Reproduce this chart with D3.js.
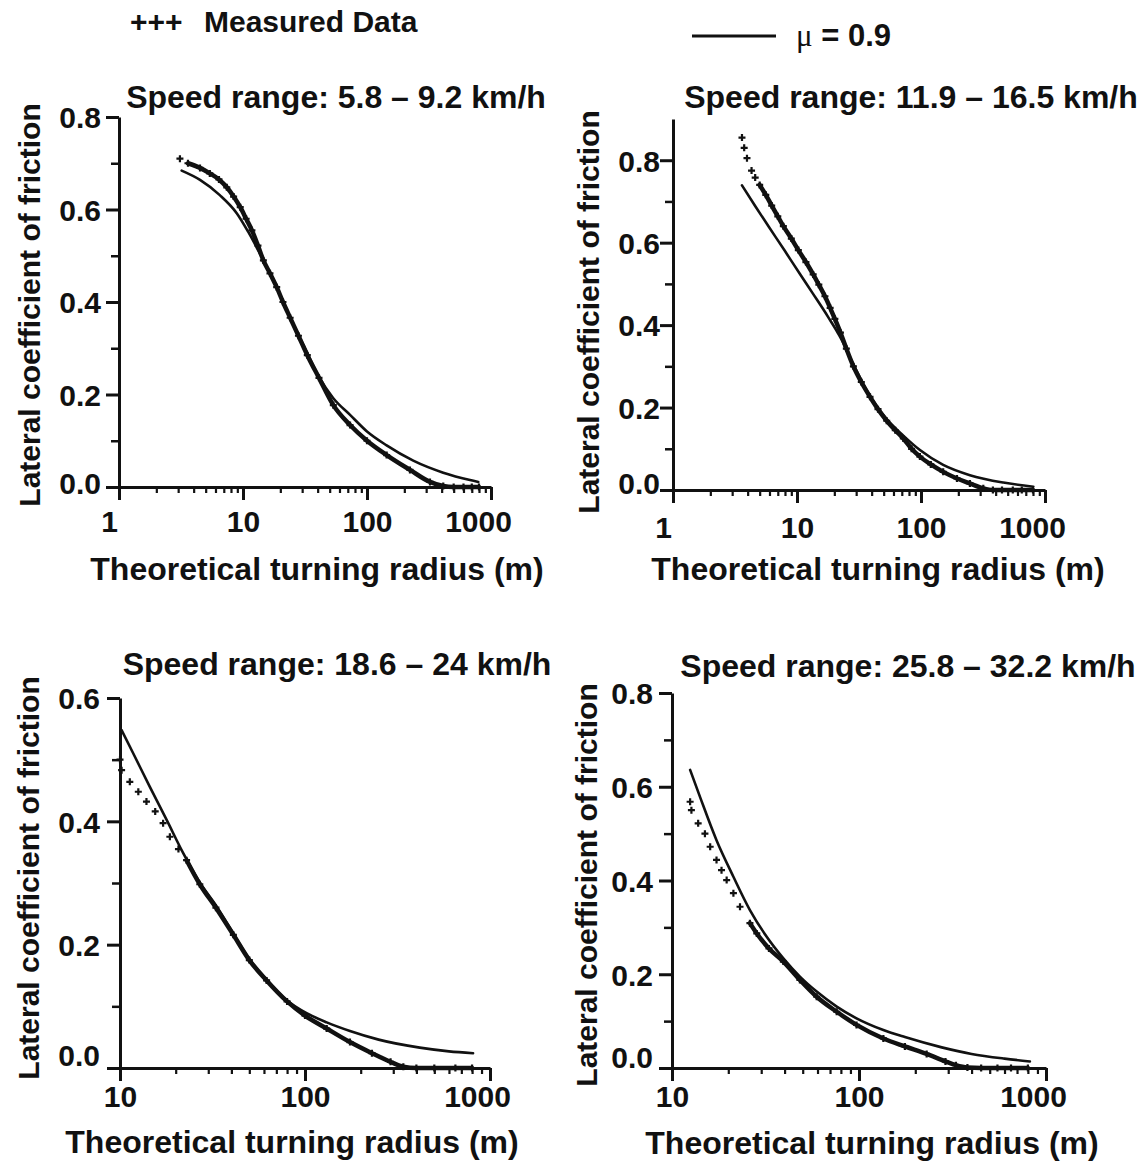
<!DOCTYPE html>
<html><head><meta charset="utf-8">
<script src="https://cdn.jsdelivr.net/npm/d3@7"></script>
<style>
body{margin:0;background:#fff;}
text{font-family:"Liberation Sans",Arial,Helvetica,sans-serif;font-weight:bold;fill:#111;}
</style></head><body>
<svg id="chart" width="1147" height="1166" style="background:#fff"></svg>
<script>
// ---------------- DATA ----------------
const legendMeasured = "Measured Data";
const legendModel = "\u03bc = 0.9";
const titles = [
  "Speed range: 5.8 \u2013 9.2 km/h",
  "Speed range: 11.9 \u2013 16.5 km/h",
  "Speed range: 18.6 \u2013 24 km/h",
  "Speed range: 25.8 \u2013 32.2 km/h"
];
const xAxisLabel = "Theoretical turning radius (m)";
const yAxisLabel = "Lateral coefficient of friction";

const xTicksTop = [1, 10, 100, 1000];
const xTicksBottom = [10, 100, 1000];
const xDomainTop = [1, 1000];
const xDomainBottom = [10, 1000];
const yTicksTL = [0, 0.2, 0.4, 0.6, 0.8];
const yTicksTR = [0, 0.2, 0.4, 0.6, 0.8];
const yTicksBL = [0, 0.2, 0.4, 0.6];
const yTicksBR = [0, 0.2, 0.4, 0.6, 0.8];
const yMax = [0.8, 0.9, 0.6, 0.8];

// model curve mu = 0.9  [radius m, lateral friction]
const modelTL = [[3.2,0.684],[4.5,0.664],[6.5,0.631],[8.9,0.592],[11,0.552],[14.6,0.49],[18.7,0.432],[24,0.366],[31,0.305],[41,0.238],[53.5,0.192],[73,0.156],[100,0.12],[144,0.09],[236,0.057],[412,0.031],[677,0.015],[790,0.011]];
const modelTR = [[3.6,0.739],[4.64,0.687],[5.94,0.638],[7.9,0.582],[10.5,0.525],[13.4,0.477],[17.8,0.42],[22.6,0.368],[28.5,0.305],[38.8,0.228],[52.9,0.172],[72,0.132],[98,0.097],[151,0.061],[248,0.036],[461,0.018],[805,0.008]];
const modelBL = [[10.2,0.548],[11.8,0.51],[14.5,0.456],[17.9,0.402],[22,0.348],[27.1,0.30],[33.3,0.262],[41,0.218],[50.4,0.175],[62,0.143],[79.6,0.11],[102,0.089],[131,0.074],[175,0.06],[250,0.046],[417,0.033],[600,0.027],[810,0.024]];
const modelBR = [[12.5,0.636],[14.1,0.579],[17.3,0.486],[21.3,0.408],[26.1,0.337],[32.1,0.28],[39.4,0.234],[48.3,0.195],[59.4,0.163],[76,0.131],[97,0.106],[135,0.081],[176,0.066],[277,0.044],[400,0.03],[600,0.02],[820,0.014]];

// measured data: isolated "+" marks and the dense band of "+" marks
const measuredSparseTL = [[3.1,0.71]];
const measuredTL = [[3.6,0.70],[4.5,0.69],[5.4,0.678],[6.4,0.665],[7.4,0.648],[8.4,0.628],[9.5,0.605],[10.6,0.58],[11.8,0.555],[13.2,0.522],[14.6,0.49],[16.5,0.462],[18.7,0.432],[21,0.40],[24,0.366],[28,0.327],[33,0.285],[41,0.236],[53.5,0.177],[73,0.134],[100,0.10],[144,0.069],[222,0.037],[322,0.011],[412,0.002],[500,0],[600,0],[700,0],[800,0]];
const measuredSparseTR = [[3.6,0.855],[3.75,0.83],[3.95,0.805],[4.3,0.775],[4.6,0.758]];
const measuredTR = [[5.0,0.74],[5.6,0.716],[6.25,0.69],[7.0,0.664],[7.76,0.64],[9,0.61],[10.25,0.582],[11.8,0.553],[13.5,0.523],[15,0.498],[16.8,0.47],[18.5,0.442],[20.2,0.415],[22.4,0.382],[25,0.343],[28.5,0.30],[33,0.262],[38.8,0.226],[45,0.196],[52.9,0.168],[62,0.145],[72,0.125],[84,0.10],[98,0.081],[120,0.062],[151,0.044],[195,0.028],[248,0.016],[318,0.004],[380,0],[450,0],[550,0],[650,0],[800,0]];
const measuredSparseBL = [[10.0,0.50],[10.2,0.483],[11.3,0.464],[12.56,0.448],[13.9,0.432],[15.5,0.416],[17.1,0.397],[18.6,0.375],[20.7,0.355]];
const measuredBL = [[22.9,0.337],[27,0.298],[33,0.26],[41,0.216],[50,0.175],[62,0.142],[80,0.108],[100,0.085],[131,0.064],[175,0.042],[230,0.024],[290,0.01],[340,0.002],[400,0],[500,0],[650,0],[800,0]];
const measuredSparseBR = [[12.5,0.568],[12.7,0.55],[13.8,0.522],[15,0.50],[16,0.472],[17.3,0.444],[18.4,0.422],[19.6,0.401],[21.3,0.373],[23.1,0.344]];
const measuredBR = [[26.1,0.309],[28.4,0.287],[33,0.255],[39.4,0.227],[48.3,0.188],[59.4,0.152],[76,0.12],[97,0.092],[135,0.063],[176,0.046],[230,0.03],[290,0.014],[330,0.006],[380,0.001],[450,0],[550,0],[650,0],[800,0]];

// ---------------- LAYOUT ----------------
const layout = [
  {x0:119, x1:491, y0:487, y1:117, title:[336,108], xlab:[317,580], ylab:[40,305], xLabOff:45, yLabGap:18, zeroShift:-4},
  {x0:673, x1:1045, y0:490, y1:119, title:[911,108], xlab:[878,580], ylab:[599,312], xLabOff:48, yLabGap:13, zeroShift:-7},
  {x0:120, x1:490, y0:1068, y1:698, title:[337,675], xlab:[292,1153], ylab:[39,878], xLabOff:39, yLabGap:20, zeroShift:-13},
  {x0:672, x1:1046, y0:1068, y1:693, title:[908,677], xlab:[872,1154], ylab:[597,885], xLabOff:39, yLabGap:19, zeroShift:-11}
];

const panels = [
  {xDomain:xDomainTop, xTicks:xTicksTop, yTicks:yTicksTL, yMax:yMax[0], model:modelTL, meas:measuredTL, sparse:measuredSparseTL, title:titles[0]},
  {xDomain:xDomainTop, xTicks:xTicksTop, yTicks:yTicksTR, yMax:yMax[1], model:modelTR, meas:measuredTR, sparse:measuredSparseTR, title:titles[1]},
  {xDomain:xDomainBottom, xTicks:xTicksBottom, yTicks:yTicksBL, yMax:yMax[2], model:modelBL, meas:measuredBL, sparse:measuredSparseBL, title:titles[2]},
  {xDomain:xDomainBottom, xTicks:xTicksBottom, yTicks:yTicksBR, yMax:yMax[3], model:modelBR, meas:measuredBR, sparse:measuredSparseBR, title:titles[3]}
];

const INK = "#111";
const svg = d3.select("#chart");
svg.append("rect").attr("width",1147).attr("height",1166).attr("fill","#fff");

// legend
svg.append("text").attr("x",130).attr("y",32).style("font-size","30px").text("+++");
svg.append("text").attr("x",204).attr("y",32).style("font-size","30px").text(legendMeasured);
svg.append("line").attr("x1",692).attr("x2",776).attr("y1",36).attr("y2",36)
  .attr("stroke",INK).attr("stroke-width",3);
const lt = svg.append("text").attr("x",796).attr("y",46).style("font-size","31px");
lt.append("tspan").style("font-family","'Liberation Serif','DejaVu Serif',serif").style("font-weight","normal").text(legendModel.slice(0,1));
lt.append("tspan").text(legendModel.slice(1));

const plusPath = "M-3.5,0H3.5M0,-3.5V3.5";

panels.forEach((p, i) => {
  const L = layout[i];
  const x = d3.scaleLog().domain(p.xDomain).range([L.x0, L.x1]);
  const y = d3.scaleLinear().domain([0, p.yMax]).range([L.y0, L.y1]);
  const g = svg.append("g");

  // minor x ticks
  const minorX = [];
  for (let d = p.xDomain[0]; d < p.xDomain[1]; d *= 10)
    for (let k = 2; k <= 9; k++) minorX.push(d * k);
  g.append("g").attr("transform",`translate(0,${L.y0})`)
    .call(d3.axisBottom(x).tickValues(minorX).tickSize(6).tickSizeOuter(0).tickFormat(""))
    .call(a => a.select(".domain").remove())
    .call(a => a.selectAll("line").attr("stroke",INK).attr("stroke-width",2.2));

  // minor y ticks
  const topTick = p.yTicks[p.yTicks.length-1];
  const minorY = d3.range(0, Math.round(topTick*10)+1).map(k => k/10).filter(v => !p.yTicks.some(t => Math.abs(t-v)<1e-9));
  g.append("g").attr("transform",`translate(${L.x0},0)`)
    .call(d3.axisLeft(y).tickValues(minorY).tickSize(8).tickSizeOuter(0).tickFormat(""))
    .call(a => a.select(".domain").remove())
    .call(a => a.selectAll("line").attr("stroke",INK).attr("stroke-width",2.5));

  // major x axis
  const xa = g.append("g").attr("transform",`translate(0,${L.y0})`)
    .call(d3.axisBottom(x).tickValues(p.xTicks).tickSize(13).tickSizeOuter(0).tickFormat(d3.format("d")));
  xa.select(".domain").attr("stroke",INK).attr("stroke-width",3);
  xa.selectAll("line").attr("stroke",INK).attr("stroke-width",3);
  xa.selectAll("text").attr("y",L.xLabOff).attr("dy",0).attr("fill",INK)
    .style("font-size","30px").style("font-family",'"Liberation Sans",Arial,sans-serif').style("font-weight","bold")
    .attr("dx", d => d === 1000 ? -13 : (d === 1 ? -10 : 0));

  // major y axis
  const ya = g.append("g").attr("transform",`translate(${L.x0},0)`)
    .call(d3.axisLeft(y).tickValues(p.yTicks).tickSize(13).tickSizeOuter(0).tickFormat(d3.format(".1f")));
  ya.select(".domain").attr("stroke",INK).attr("stroke-width",3);
  ya.selectAll("line").attr("stroke",INK).attr("stroke-width",3);
  ya.selectAll("text").attr("x",-L.yLabGap).attr("dy","0.36em").attr("fill",INK)
    .attr("transform", d => d === 0 ? `translate(0,${L.zeroShift})` : null)
    .style("font-size","30px").style("font-family",'"Liberation Sans",Arial,sans-serif').style("font-weight","bold");

  const line = d3.line().x(d => x(d[0])).y(d => y(d[1])).curve(d3.curveMonotoneX);

  // model line
  g.append("path").datum(p.model).attr("d", line).attr("fill","none")
    .attr("stroke",INK).attr("stroke-width",2.6).attr("stroke-linecap","round");

  // measured dense band
  g.append("path").datum(p.meas).attr("d", line).attr("fill","none")
    .attr("stroke",INK).attr("stroke-width",4.5).attr("stroke-linecap","round");
  g.selectAll(".plus").data(p.sparse.concat(p.meas)).join("path")
    .attr("d", plusPath).attr("transform", d => `translate(${x(d[0])},${y(d[1])})`)
    .attr("stroke",INK).attr("stroke-width",2.2).attr("fill","none");

  // titles & labels
  g.append("text").attr("x",L.title[0]).attr("y",L.title[1]).attr("text-anchor","middle")
    .style("font-size","32px").text(p.title);
  g.append("text").attr("x",L.xlab[0]).attr("y",L.xlab[1]).attr("text-anchor","middle")
    .style("font-size","32px").text(xAxisLabel);
  g.append("text").attr("transform",`translate(${L.ylab[0]},${L.ylab[1]}) rotate(-90)`)
    .attr("text-anchor","middle").style("font-size","30px").text(yAxisLabel);
});
</script>
</body></html>
